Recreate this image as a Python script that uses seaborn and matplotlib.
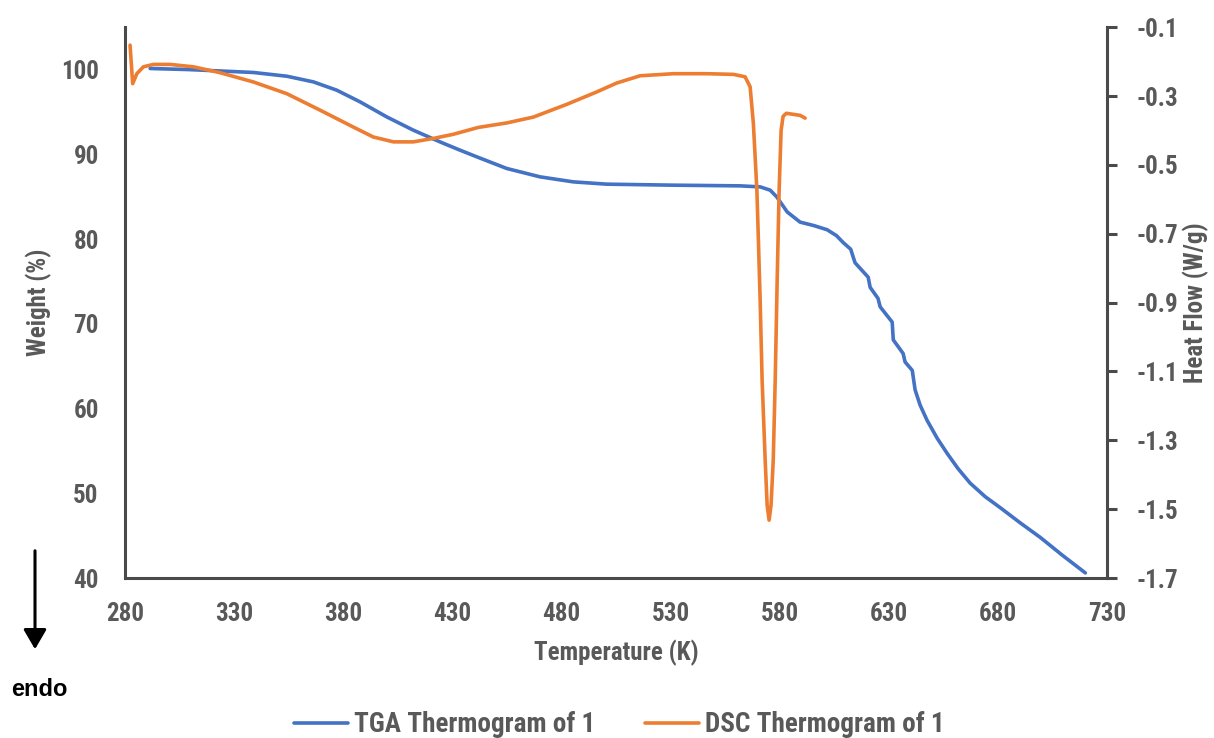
import matplotlib
matplotlib.use("Agg")
import matplotlib.pyplot as plt
import seaborn as sns
import pandas as pd
from matplotlib import font_manager

# ---------------- data ----------------
tga_temp = [291.5, 308.3, 323.5, 338.8, 354.1, 366.3, 377.0, 387.7, 399.9, 412.1,
            424.3, 433.5, 441.9, 454.9, 470.2, 485.4, 500.7, 531.3, 561.8, 571.0,
            575.6, 578.6, 583.4, 589.3, 595.5, 601.7, 606.0, 609.0, 612.5, 613.6,
            614.5, 620.5, 621.4, 625.0, 626.0, 631.5, 632.0, 636.5, 637.4, 640.7,
            642.0, 644.3, 647.5, 652.1, 656.7, 661.7, 667.2, 674.1, 681.0, 690.2,
            699.3, 709.4, 720.0]
tga_weight = [100.13, 100.01, 99.84, 99.66, 99.22, 98.55, 97.57, 96.19, 94.42, 92.85,
              91.47, 90.49, 89.63, 88.33, 87.34, 86.75, 86.48, 86.36, 86.28, 86.16,
              85.77, 84.98, 83.2, 82.0, 81.6, 81.1, 80.4, 79.6, 78.8, 77.9,
              77.2, 75.5, 74.3, 73.0, 72.0, 70.2, 68.1, 66.5, 65.5, 64.5,
              62.2, 60.4, 58.6, 56.5, 54.7, 52.9, 51.2, 49.6, 48.3, 46.5,
              44.8, 42.7, 40.6]

dsc_temp = [282.3, 283.5, 285.4, 288.4, 293.0, 300.6, 311.3, 323.5, 338.8, 354.1,
            369.4, 384.6, 393.8, 403.0, 412.1, 421.3, 430.4, 441.9, 454.9, 467.1,
            482.4, 496.1, 505.3, 516.0, 531.3, 546.6, 558.8, 564.1, 566.4, 567.9,
            569.5, 570.1, 571.0, 571.9, 573.3, 574.2, 575.1, 576.0, 577.0, 577.9,
            578.8, 579.7, 580.6, 581.5, 583.0, 589.3, 591.6]
dsc_heat = [-0.152, -0.264, -0.235, -0.215, -0.208, -0.208, -0.215, -0.232, -0.259,
            -0.293, -0.341, -0.390, -0.419, -0.433, -0.433, -0.423, -0.411, -0.391,
            -0.378, -0.361, -0.324, -0.288, -0.262, -0.241, -0.235, -0.235, -0.237,
            -0.244, -0.273, -0.380, -0.573, -0.698, -0.893, -1.125, -1.357, -1.488,
            -1.532, -1.488, -1.357, -1.125, -0.835, -0.573, -0.400, -0.359, -0.350,
            -0.356, -0.364]

x_ticks = [280, 330, 380, 430, 480, 530, 580, 630, 680, 730]
left_ticks = [40, 50, 60, 70, 80, 90, 100]
right_ticks = [-1.7, -1.5, -1.3, -1.1, -0.9, -0.7, -0.5, -0.3, -0.1]
tga_label = "TGA Thermogram of 1"
dsc_label = "DSC Thermogram of 1"

# ---------------- style ----------------
sns.set_style("white")
names = {f.name for f in font_manager.fontManager.ttflist}
narrow = [n for n in ["Liberation Sans Narrow", "Roboto Condensed", "Open Sans Condensed",
                      "DejaVu Sans Condensed"] if n in names]
if narrow:
    plt.rcParams["font.family"] = narrow[:1] + ["DejaVu Sans"]
    fs, lfs = 18, 19.5
else:
    plt.rcParams["font.family"] = ["Liberation Sans", "DejaVu Sans"]
    fs, lfs = 16, 17
grey = "#595959"
spine_c = "#4a4a4a"
blue = "#4472C4"
orange = "#ED7D31"

fig = plt.figure(figsize=(12.14, 7.38), dpi=100)
ax = fig.add_axes([0.103, 0.2168, 0.809, 0.7463])
ax2 = ax.twinx()

tga = pd.DataFrame({"T": tga_temp, "W": tga_weight})
dsc = pd.DataFrame({"T": dsc_temp, "H": dsc_heat})
sns.lineplot(data=tga, x="T", y="W", ax=ax, color=blue, linewidth=2.6, sort=False,
             label=tga_label, legend=False)
sns.lineplot(data=dsc, x="T", y="H", ax=ax2, color=orange, linewidth=2.6, sort=False,
             label=dsc_label, legend=False)
for ln in ax.get_lines() + ax2.get_lines():
    ln.set_solid_joinstyle("round")
    ln.set_solid_capstyle("round")

ax.set_xlim(280, 730)
ax.set_ylim(40, 105)
ax2.set_ylim(-1.7, -0.1)
ax.set_xticks(x_ticks)
ax.set_yticks(left_ticks)
ax2.set_yticks(right_ticks)
ax2.set_yticklabels([f"{v:.1f}" for v in right_ticks])

for a in (ax, ax2):
    for s in a.spines.values():
        s.set_visible(False)
ax.spines["left"].set_visible(True)
ax.spines["bottom"].set_visible(True)
ax2.spines["right"].set_visible(True)
for s in (ax.spines["left"], ax.spines["bottom"], ax2.spines["right"]):
    s.set_color(spine_c)
    s.set_linewidth(2.2)

ax.tick_params(axis="x", length=0, pad=17, labelsize=fs, labelcolor=grey)
ax.tick_params(axis="y", length=0, pad=19, labelsize=fs, labelcolor=grey)
ax2.tick_params(axis="y", length=7, width=2.2, color=spine_c, direction="out",
                pad=14, labelsize=fs, labelcolor=grey)
for lab in ax.get_xticklabels() + ax.get_yticklabels() + ax2.get_yticklabels():
    lab.set_fontweight("bold")

ax.set_xlabel("Temperature (K)", fontsize=fs, fontweight="bold", color=grey, labelpad=10)
ax.set_ylabel("Weight (%)", fontsize=fs, fontweight="bold", color=grey, labelpad=6)
ax2.set_ylabel("Heat Flow (W/g)", fontsize=fs, fontweight="bold", color=grey, labelpad=3)

# endo arrow
fig.patches.append(matplotlib.patches.FancyArrowPatch(
    (35 / 1214, 1 - 548 / 738), (35 / 1214, 1 - 652 / 738), transform=fig.transFigure,
    arrowstyle="-|>,head_length=0.6,head_width=0.35", mutation_scale=20,
    color="black", linewidth=2.2))
fig.text(39 / 1214, 1 - 690 / 738, "endo", ha="center", va="center", fontsize=17,
         fontweight="bold", color="black", family=["Liberation Sans", "DejaVu Sans"])

handles = ax.get_lines()[:1] + ax2.get_lines()[:1]
leg = fig.legend(handles, [tga_label, dsc_label], loc="center", ncol=2,
                 bbox_to_anchor=(0.510, 1 - 725 / 738), frameon=False,
                 handlelength=2.0, columnspacing=1.85, handletextpad=0.2,
                 prop={"size": lfs, "weight": "bold"})
for t in leg.get_texts():
    t.set_color(grey)

fig.savefig("out.png", dpi=100)
